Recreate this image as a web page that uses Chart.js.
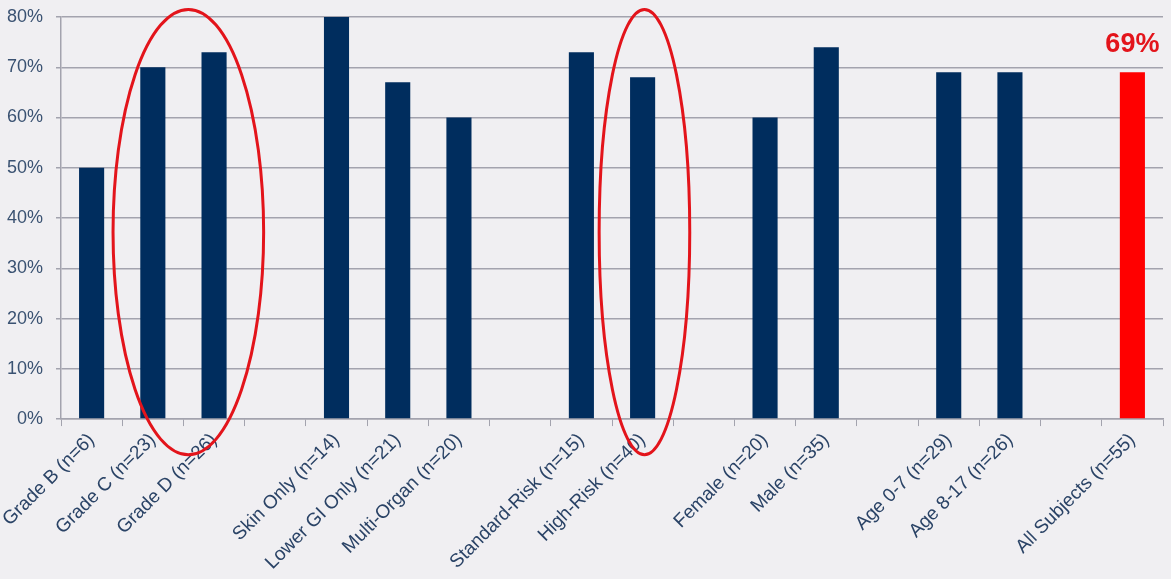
<!DOCTYPE html>
<html>
<head>
<meta charset="utf-8">
<script src="https://cdn.jsdelivr.net/npm/chart.js@4.4.0/dist/chart.umd.min.js"></script>
<style>
  html, body { margin: 0; padding: 0; background: #f0eff2; }
  #wrap { width: 1171px; height: 579px; position: relative; }
</style>
</head>
<body>
<div id="wrap"><canvas id="barchart"></canvas></div>
<script>
// empty strings are the gaps between the subgroups
var labels = ["Grade B (n=6)", "Grade C (n=23)", "Grade D (n=26)", "",
  "Skin Only (n=14)", "Lower GI Only (n=21)", "Multi-Organ (n=20)", "",
  "Standard-Risk (n=15)", "High-Risk (n=40)", "",
  "Female (n=20)", "Male (n=35)", "",
  "Age 0-7 (n=29)", "Age 8-17 (n=26)", "",
  "All Subjects (n=55)"];
var responseRate = [50, 70, 73, null, 80, 67, 60, null, 73, 68, null, 60, 74, null, 69, 69, null, 69];
var yTicks = [0, 10, 20, 30, 40, 50, 60, 70, 80];
var highlightLabel = "69%";
// circled groups: [centre index, half width in categories]
var circles = [[1.58, 1.23], [9.03, 0.74]];

var navy = "#002d5e";
var red = "#ff0000";
var barColors = responseRate.map(function (v, i) { return i === labels.length - 1 ? red : navy; });

var annotate = {
  id: "annotate",
  afterDatasetsDraw: function (chart) {
    var ctx = chart.ctx, x = chart.scales.x, y = chart.scales.y;
    var slot = x.getPixelForValue(1) - x.getPixelForValue(0);
    var cy = y.getPixelForValue(37.2);
    var ry = Math.abs(y.getPixelForValue(81.5) - y.getPixelForValue(37.2));
    ctx.save();
    ctx.strokeStyle = "#e3141b";
    ctx.lineWidth = 3;
    circles.forEach(function (c) {
      ctx.beginPath();
      ctx.ellipse(x.getPixelForValue(c[0]), cy, c[1] * slot, ry, 0, 0, Math.PI * 2);
      ctx.stroke();
    });
    var last = labels.length - 1;
    ctx.fillStyle = "#e3141b";
    ctx.font = "bold 27px 'Liberation Sans', Arial, sans-serif";
    ctx.textAlign = "center";
    ctx.textBaseline = "alphabetic";
    ctx.fillText(highlightLabel, x.getPixelForValue(last), y.getPixelForValue(responseRate[last]) - 20);
    ctx.restore();
  }
};

new Chart(document.getElementById("barchart"), {
  type: 'bar',
  data: {
    labels: labels,
    datasets: [{
      data: responseRate,
      backgroundColor: barColors,
      borderWidth: 0,
      barPercentage: 0.41,
      categoryPercentage: 1.0
    }]
  },
  options: {
    responsive: true,
    maintainAspectRatio: false,
    animation: false,
    layout: { padding: { top: 17, right: 8, left: 0, bottom: 2 } },
    plugins: {
      legend: { display: false },
      tooltip: { enabled: false }
    },
    scales: {
      x: {
        afterFit: function (axis) { axis.paddingLeft = 0; },
        grid: {
          offset: true,
          drawOnChartArea: false,
          color: "#a3a3ae",
          tickLength: 7
        },
        border: { color: "#a3a3ae", width: 1.5 },
        ticks: {
          autoSkip: false,
          maxRotation: 45,
          minRotation: 45,
          color: "#2a4366",
          font: { family: "'Liberation Sans', Arial, sans-serif", size: 19 }
        }
      },
      y: {
        min: 0,
        max: 80,
        afterBuildTicks: function (axis) {
          axis.ticks = yTicks.map(function (v) { return { value: v }; });
        },
        afterFit: function (axis) { axis.width = 61; axis.paddingTop = 0; },
        grid: {
          color: "#a3a3ae",
          lineWidth: 1.5,
          tickLength: 5
        },
        border: { color: "#a3a3ae", width: 1.5 },
        ticks: {
          padding: 13,
          color: "#3a5272",
          font: { family: "'Liberation Sans', Arial, sans-serif", size: 18 },
          callback: function (v) { return v + "%"; }
        }
      }
    }
  },
  plugins: [annotate]
});
</script>
</body>
</html>
